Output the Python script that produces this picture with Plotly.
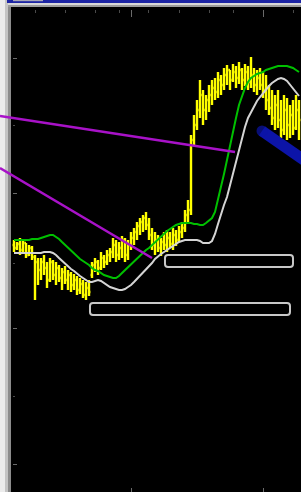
import plotly.graph_objects as go

# ---------------- data ----------------
bar_index = list(range(96))

high = [260,258,262,260,257,255,254,245,242,242,
        245,238,242,240,238,235,232,234,230,228,
        226,224,222,220,218,220,238,242,240,248,
        245,250,252,262,260,258,264,262,260,268,
        272,278,282,285,288,282,272,268,265,262,
        268,270,268,272,270,274,278,290,300,365,
        385,400,420,410,405,415,420,422,428,425,
        432,435,430,436,434,438,432,436,434,443,
        432,430,432,428,425,415,410,405,410,400,
        405,402,395,400,405,400]

low = [248,250,245,247,242,244,240,200,215,220,
       225,212,218,220,215,218,210,216,210,208,
       210,205,206,202,200,204,222,228,225,230,
       232,235,238,242,238,240,242,238,240,250,
       255,260,265,268,270,260,250,245,248,244,
       250,248,252,250,254,258,262,268,278,285,
       355,370,382,375,380,388,395,400,402,405,
       410,415,410,418,412,416,410,414,410,412,
       408,405,410,402,390,385,375,370,372,362,
       365,360,362,365,370,360]

open_ = [255,252,256,250,257,245,252,243,238,230,
         238,232,220,238,225,232,222,228,220,225,
         215,220,210,216,205,212,225,235,238,232,
         242,238,245,248,255,245,252,260,245,255,
         262,268,274,278,282,275,265,255,260,252,
         258,255,262,256,265,260,268,272,285,290,
         360,375,390,405,390,400,405,412,408,420,
         415,425,430,420,428,422,430,420,428,418,
         425,415,422,415,410,400,392,382,395,380,
         370,390,375,385,372,390]

close = [252,256,250,257,245,252,243,238,230,238,
         232,220,238,225,232,222,228,220,225,215,
         220,210,216,205,212,208,235,238,232,242,
         238,245,248,255,245,252,260,245,255,262,
         268,274,278,282,275,265,255,260,252,258,
         255,262,256,265,260,268,272,285,290,360,
         375,390,405,390,400,405,412,408,420,415,
         425,430,420,428,422,430,420,428,418,425,
         415,422,415,410,400,392,382,395,380,370,
         390,375,385,372,390,380]

upper_band = [260,260,260,260,260,260,261,261,261,262,
              263,264,265,265,263,261,258,255,252,249,
              246,243,241,239,237,235,232,230,229,227,
              225,224,223,222,222,224,227,230,233,236,
              239,242,245,248,250,252,255,258,261,264,
              267,269,271,273,275,276,277,277,277,277,
              276,276,275,275,277,280,282,288,300,313,
              326,340,355,370,382,395,404,412,418,422,
              424,426,427,428,430,431,432,433,434,434,
              434,434,433,432,430,428]

lower_band = [247,247,247,247,247,247,247,247,247,247,
              248,248,248,247,245,242,239,236,234,231,
              229,226,224,222,220,218,218,219,220,219,
              217,215,213,212,211,210,210,211,213,215,
              218,221,224,227,230,233,237,241,244,246,
              248,250,252,254,256,258,259,260,260,260,
              260,260,259,257,257,257,259,266,276,286,
              295,303,315,327,338,350,362,373,382,388,
              394,399,403,407,411,414,417,419,421,422,
              421,419,415,412,408,404]

# trend lines (magenta)
trend_x0 = [-4.67, -4.67]
trend_y0 = [384, 332]
trend_x1 = [73.67, 46.0]
trend_y1 = [348, 242]

# thick blue channel line
channel_x = [82.67, 100.0]
channel_y = [369, 333]

# rounded zones
zone_x0 = [50.33, 25.33]
zone_x1 = [93.0, 92.0]
zone_top = [245, 197]
zone_bottom = [233, 185]

# tick positions
top_major_ticks = [39.33, 83]
top_minor_ticks = [7, 17, 27, 35, 44.67, 55.33, 65, 73.33, 93]
bottom_ticks = [39, 83]
left_major_ticks = [442, 307, 172, 36]
left_minor_ticks = [375, 237, 104]

# ---------------- figure ----------------
W, H = 301, 492
fig = go.Figure()

fig.add_trace(go.Ohlc(
    x=bar_index, open=open_, high=high, low=low, close=close,
    increasing=dict(line=dict(color="#ffff00", width=2.4)),
    decreasing=dict(line=dict(color="#ffff00", width=2.4)),
    tickwidth=0.5, hoverinfo="skip", showlegend=False))

fig.add_trace(go.Scatter(x=bar_index, y=upper_band, mode="lines",
                         line=dict(color="#00c000", width=2),
                         hoverinfo="skip", showlegend=False))
fig.add_trace(go.Scatter(x=bar_index, y=lower_band, mode="lines",
                         line=dict(color="#d4d4d4", width=2),
                         hoverinfo="skip", showlegend=False))

for x0, y0, x1, y1 in zip(trend_x0, trend_y0, trend_x1, trend_y1):
    fig.add_trace(go.Scatter(x=[x0, x1], y=[y0, y1], mode="lines",
                             line=dict(color="#a812c8", width=2.5),
                             hoverinfo="skip", showlegend=False))

fig.add_trace(go.Scatter(x=channel_x, y=channel_y, mode="lines+markers",
                         line=dict(color="#0c14a8", width=11),
                         marker=dict(color="#0c14a8", size=[11, 0], line=dict(width=0)),
                         hoverinfo="skip", showlegend=False))

# invisible trace so the overlaid tick-mark axes get drawn
fig.add_trace(go.Scatter(x=[bar_index[0]], y=[low[0]], xaxis="x2", yaxis="y2",
                         mode="markers", marker=dict(opacity=0),
                         hoverinfo="skip", showlegend=False))

shapes = []
# window frame (decoration, below traces)
def prect(x0, y0, x1, y1, color):
    return dict(type="rect", xref="paper", yref="paper",
                x0=x0 / W, x1=x1 / W, y0=1 - y1 / H, y1=1 - y0 / H,
                fillcolor=color, line=dict(width=0), layer="below")

shapes += [
    prect(0, 0, 5, H, "#ececec"),
    prect(5, 0, 8, H, "#c4c4c4"),
    prect(8, 7, 11, H, "#8c8c8c"),
    prect(7, 0, W, 3, "#1c24a4"),
    prect(13, 0, 43, 1.2, "#a8a8b8"),
    prect(8, 3, W, 5, "#d8d8d8"),
    prect(8, 5, W, 7, "#9c9c9c"),
]

# rounded zones
rx, ry = 1.0, 3.0
for x0, x1, yt, yb in zip(zone_x0, zone_x1, zone_top, zone_bottom):
    path = (f"M {x0+rx},{yt} L {x1-rx},{yt} Q {x1},{yt} {x1},{yt-ry} "
            f"L {x1},{yb+ry} Q {x1},{yb} {x1-rx},{yb} L {x0+rx},{yb} "
            f"Q {x0},{yb} {x0},{yb+ry} L {x0},{yt-ry} Q {x0},{yt} {x0+rx},{yt} Z")
    shapes.append(dict(type="path", xref="x", yref="y", path=path,
                       line=dict(color="#c8c8c8", width=2), layer="above"))

axis_common = dict(showgrid=False, zeroline=False, showline=False,
                   showticklabels=False, fixedrange=True)

fig.update_layout(
    width=W, height=H, autosize=False,
    margin=dict(l=0, r=0, t=0, b=0, pad=0),
    paper_bgcolor="#000000", plot_bgcolor="rgba(0,0,0,0)",
    showlegend=False, shapes=shapes,
    xaxis=dict(range=[-4.667, 95.667], rangeslider=dict(visible=False),
               tickmode="array", tickvals=bottom_ticks, ticks="inside",
               ticklen=4, tickwidth=1, tickcolor="#6a6a6a", **axis_common),
    xaxis2=dict(overlaying="x", range=[-4.667, 95.667], side="top", anchor="free",
                position=1 - 9 / H, tickmode="array", tickvals=top_major_ticks,
                ticks="inside", ticklen=7, tickwidth=1, tickcolor="#6a6a6a",
                minor=dict(tickmode="array", tickvals=top_minor_ticks, ticks="inside",
                           ticklen=3, tickwidth=1, tickcolor="#4a4a4a"),
                **axis_common),
    yaxis=dict(range=[8, 500], ticks="", **axis_common),
    yaxis2=dict(overlaying="y", range=[8, 500], side="left", anchor="free",
                position=12 / W, tickmode="array", tickvals=left_major_ticks,
                ticks="inside", ticklen=4, tickwidth=1, tickcolor="#6a6a6a",
                minor=dict(tickmode="array", tickvals=left_minor_ticks, ticks="inside",
                           ticklen=2, tickwidth=1, tickcolor="#4a4a4a"),
                **axis_common),
)

fig.write_html("out.html", config={"displayModeBar": False},
               post_script="document.body.style.margin='0px';document.body.style.overflow='hidden';")
